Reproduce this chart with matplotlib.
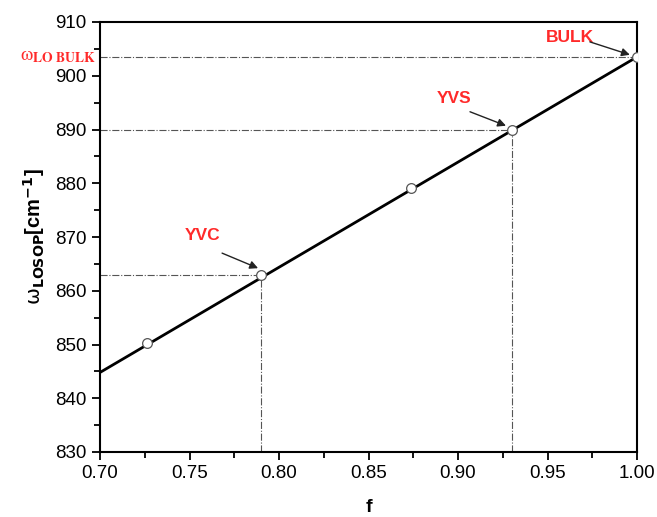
import matplotlib
matplotlib.use("Agg")
import matplotlib.pyplot as plt
from matplotlib.ticker import MultipleLocator

plt.rcParams['font.family'] = ['Liberation Sans', 'DejaVu Sans']

# data
f_points = [0.726, 0.79, 0.874, 0.93, 1.00]
w_points = [850.3, 863.0, 879.1, 890.0, 903.5]
fit_x = [0.70, 1.00]
fit_y = [844.8, 903.5]
labels = ["YVC", "YVS", "BULK"]
label_f = [0.79, 0.93, 1.00]
label_w = [863.0, 890.0, 903.5]
text_pos = [(0.7575, 870.2), (0.8978, 895.7), (0.9626, 907.2)]
arrow_start = [(0.7682, 867.0), (0.9067, 893.3), (0.9737, 906.3)]
arrow_end = [(0.7883, 864.2), (0.9268, 890.7), (0.996, 903.9)]

fig = plt.figure(figsize=(6.57, 5.17), dpi=100)
ax = fig.add_axes([100/657, 65/517, 537/657, 430/517])

ax.plot(fit_x, fit_y, color='black', lw=2, zorder=3)
ax.plot(f_points, w_points, 'o', mfc='white', mec='#555555', ms=7, mew=0.9, zorder=4)

for fx, wy in zip(label_f, label_w):
    ax.plot([0.70, fx], [wy, wy], color='#555555', lw=0.8, ls='-.', zorder=2)
    if fx < 1.0:
        ax.plot([fx, fx], [830, wy], color='#555555', lw=0.8, ls='-.', zorder=2)

for lab, (tx, ty), s, e in zip(labels, text_pos, arrow_start, arrow_end):
    ax.text(tx, ty, lab, color='#ff2a2a', fontsize=12.5, fontweight='bold', ha='center', va='center')
    ax.annotate('', xy=e, xytext=s,
                arrowprops=dict(arrowstyle='-|>', color='#222222', lw=1, mutation_scale=12,
                                shrinkA=0, shrinkB=0))

ax.set_xlim(0.70, 1.00)
ax.set_ylim(830, 910)
ax.xaxis.set_major_locator(MultipleLocator(0.05))
ax.xaxis.set_minor_locator(MultipleLocator(0.025))
ax.yaxis.set_major_locator(MultipleLocator(10))
ax.yaxis.set_minor_locator(MultipleLocator(5))
ax.tick_params(which='both', direction='out', labelsize=13.5, width=1.3)
ax.tick_params(which='major', length=6)
ax.tick_params(which='minor', length=4)
ax.xaxis.set_major_formatter(matplotlib.ticker.FormatStrFormatter('%.2f'))
for s in ax.spines.values():
    s.set_linewidth(1.5)

ax.set_xlabel('f', fontsize=14, fontweight='bold', labelpad=12)
ax.set_ylabel(r'$\mathrm{\omega}_{\mathbf{LOSOP}}$[cm$^{\mathbf{-1}}$]', fontsize=14.5,
              fontweight='bold', labelpad=6)

ax.text(-0.008, 903.5, r'$\mathrm{\omega}_{\mathbf{LO\ BULK}}$', transform=ax.get_yaxis_transform(),
        ha='right', va='center', color='#ff2a2a', fontsize=14, math_fontfamily='stix')

fig.savefig('out.png', dpi=100)
